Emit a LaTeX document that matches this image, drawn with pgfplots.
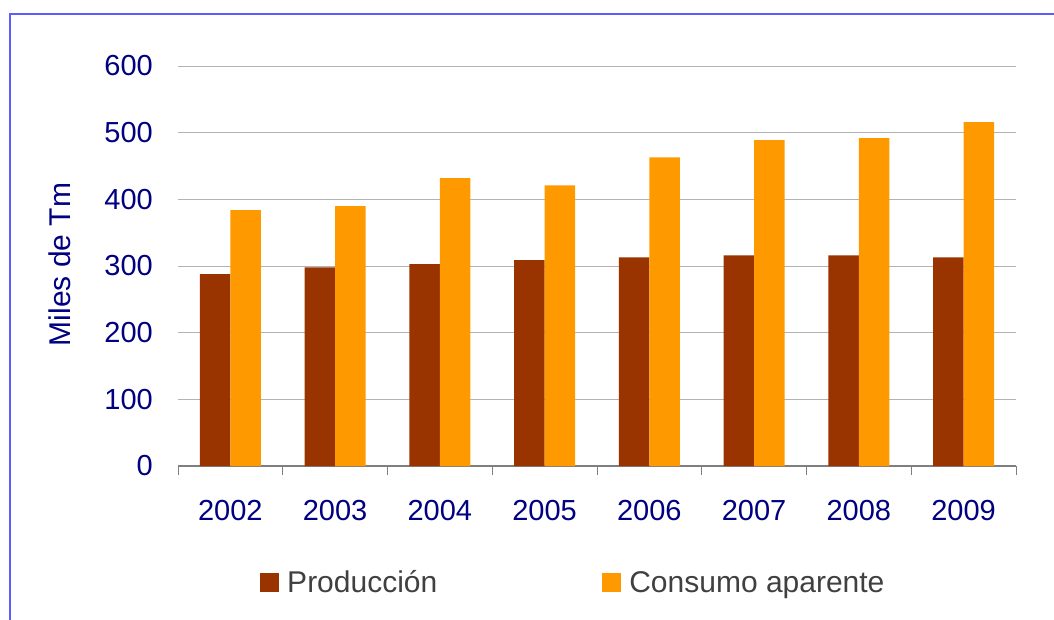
\documentclass[border=0pt]{standalone}
\usepackage{pgfplots}
\pgfplotsset{compat=1.18}
\usepackage{fontspec}
\setmainfont{Liberation Sans}
\definecolor{prod}{HTML}{993300}
\definecolor{cons}{HTML}{FF9900}
\definecolor{navy}{HTML}{000080}
\definecolor{frameblue}{HTML}{5C5CFF}
\definecolor{gridgray}{HTML}{B3B3B3}
\definecolor{axgray}{HTML}{7F7F7F}
\definecolor{legtext}{HTML}{404040}
\begin{document}
\begin{tikzpicture}
\useasboundingbox (0,0) rectangle (1054pt,619pt);
\draw[frameblue, line width=2pt] (10pt,-20pt) rectangle (1080pt,605pt);
\begin{axis}[
  at={(178pt,153pt)}, anchor=south west,
  scale only axis, width=838pt, height=400pt,
  xmin=-0.5, xmax=7.5, ymin=0, ymax=600,
  ybar=0pt, bar width=30.5pt,
  axis x line*=bottom, axis y line*=left,
  y axis line style={draw=none},
  x axis line style={draw=axgray, line width=1.2pt, -},
  xtick={0,1,2,3,4,5,6,7},
  xticklabels={2002,2003,2004,2005,2006,2007,2008,2009},
  xtick style={draw=none},
  extra x ticks={-0.5,0.5,1.5,2.5,3.5,4.5,5.5,6.5,7.5},
  extra x tick labels={},
  extra x tick style={xtick style={draw=axgray, line width=1pt}, major tick length=9pt, tick align=outside},
  ytick={0,100,200,300,400,500,600},
  ytick style={draw=none},
  ymajorgrids, grid style={draw=gridgray, line width=1pt},
  /pgf/number format/assume math mode=true,
  tick label style={font=\fontsize{29pt}{34pt}\selectfont, text=navy, inner sep=0pt},
  yticklabel style={anchor=east, xshift=-25pt},
  xticklabel style={anchor=north, yshift=-30pt},
  ylabel={Miles de Tm},
  ylabel style={at={(axis description cs:-0.1408,0.504)}, anchor=center, inner sep=0pt, font=\fontsize{30pt}{36pt}\selectfont, text=navy},
  legend columns=2,
  legend style={at={(axis description cs:0.0979,-0.291)}, anchor=west, draw=none, fill=none, inner sep=0pt,
    font=\fontsize{30pt}{36pt}\selectfont, text=legtext,
    nodes={inner sep=0pt, anchor=west},
    /tikz/every odd column/.append style={column sep=8pt},
    /tikz/every even column/.append style={column sep=165pt}},
]
\addplot[fill=prod, draw=none, legend image code/.code={\fill[prod] (0pt,-9.5pt) rectangle (19pt,9.5pt);}]
  coordinates {(0,288) (1,298) (2,303) (3,309) (4,313) (5,316) (6,316) (7,313)};
\addlegendentry{Producción}
\addplot[fill=cons, draw=none, legend image code/.code={\fill[cons] (0pt,-9.5pt) rectangle (19pt,9.5pt);}]
  coordinates {(0,384) (1,390) (2,432) (3,421) (4,463) (5,489) (6,492) (7,516)};
\addlegendentry{Consumo aparente}
\end{axis}
\end{tikzpicture}
\end{document}
